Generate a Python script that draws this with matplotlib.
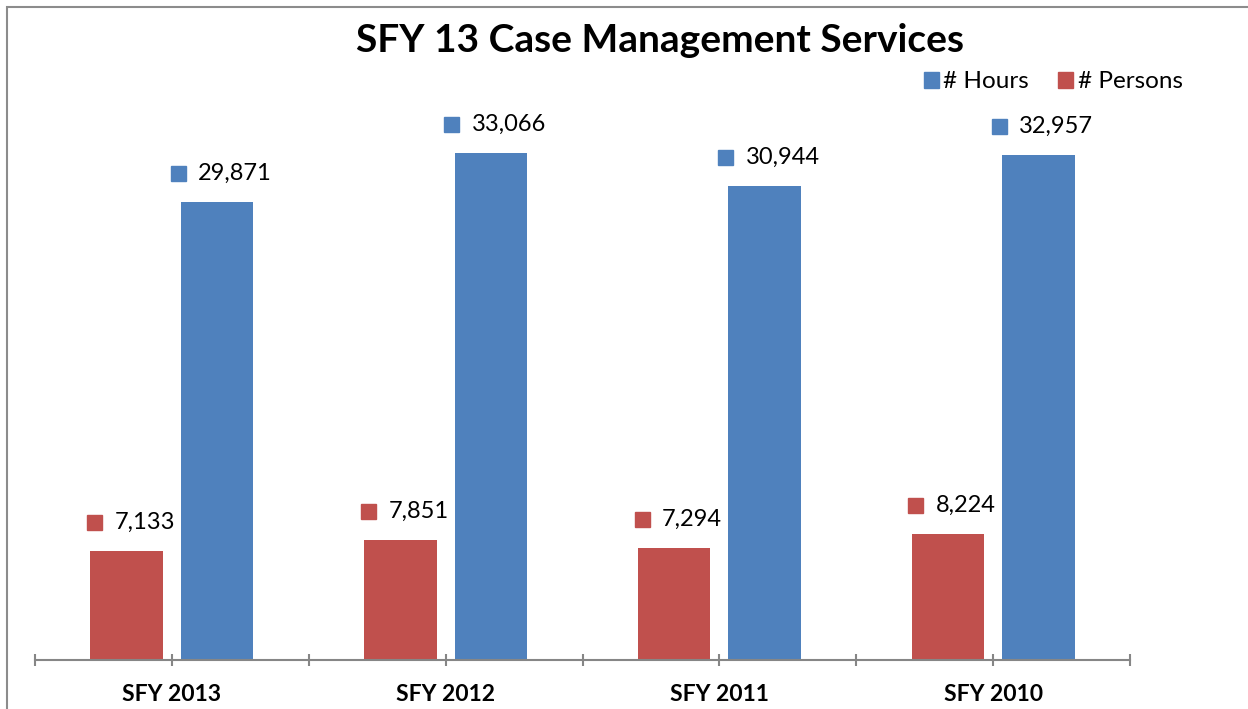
import numpy as np
import matplotlib
matplotlib.use('Agg')
import matplotlib.pyplot as plt
from matplotlib.patches import Patch, Rectangle
from matplotlib.offsetbox import AnnotationBbox, HPacker, TextArea, DrawingArea

plt.rcParams['font.family'] = ['Lato', 'DejaVu Sans']

# data
years = ['SFY 2013', 'SFY 2012', 'SFY 2011', 'SFY 2010']
hours = [29871, 33066, 30944, 32957]
persons = [7133, 7851, 7294, 8224]

blue = '#4F81BD'
red = '#C0504D'
axis_grey = '#868686'

W, H = 1248, 709
fig = plt.figure(figsize=(W / 100, H / 100), dpi=100)

# outer chart border (only left and top edges show in the picture)
fig.patches.append(Rectangle((7 / W, -0.1), 2, 1.1 - 7 / H, transform=fig.transFigure,
                             fill=False, edgecolor='#8c8c8c', lw=1.5))

ax = fig.add_axes([35 / W, 49 / H, 1095 / W, 613 / H])
x = np.arange(len(years))
off = 0.165
width = 0.265
ax.bar(x - off, persons, width, color=red)
ax.bar(x + off, hours, width, color=blue)
ax.set_xlim(-0.5, len(years) - 0.5)
ax.set_ylim(0, 40000)


def label(xpos, val, color):
    box = DrawingArea(10.8, 10.8, 0, 0)
    box.add_artist(Rectangle((0, 0), 10.8, 10.8, color=color))
    txt = TextArea(f'{val:,}', textprops=dict(fontsize=17, color='black'))
    pack = HPacker(children=[box, txt], align='center', pad=0, sep=9)
    ab = AnnotationBbox(pack, (xpos, val), xybox=(3, 13), xycoords='data',
                        boxcoords='offset points', box_alignment=(0.5, 0),
                        frameon=False, pad=0)
    ax.add_artist(ab)


for i in range(len(years)):
    label(x[i] - off, persons[i], red)
    label(x[i] + off, hours[i], blue)

for s in ['top', 'right', 'left']:
    ax.spines[s].set_visible(False)
ax.spines['bottom'].set_color(axis_grey)
ax.spines['bottom'].set_linewidth(1.5)
ax.set_yticks([])
ax.set_xticks(x)
ax.set_xticklabels(years, fontsize=16.5, fontweight='bold')
ax.set_xticks(np.arange(-0.5, len(years)), minor=True)
ax.tick_params(axis='x', which='both', direction='inout', length=8, width=1.5,
               color=axis_grey, pad=13)

fig.text(660 / W, 1 - 40 / H, 'SFY 13 Case Management Services', ha='center', va='center',
         fontsize=28, fontweight='bold')

handles = [Patch(color=blue, label='# Hours'), Patch(color=red, label='# Persons')]
fig.legend(handles=handles, loc='center left', bbox_to_anchor=(924 / W, 1 - 82 / H),
           ncol=2, frameon=False, fontsize=17.5, handlelength=0.6, handleheight=0.6,
           handletextpad=0.2, columnspacing=1.2, borderpad=0, borderaxespad=0)

fig.savefig('out.png', dpi=100)
